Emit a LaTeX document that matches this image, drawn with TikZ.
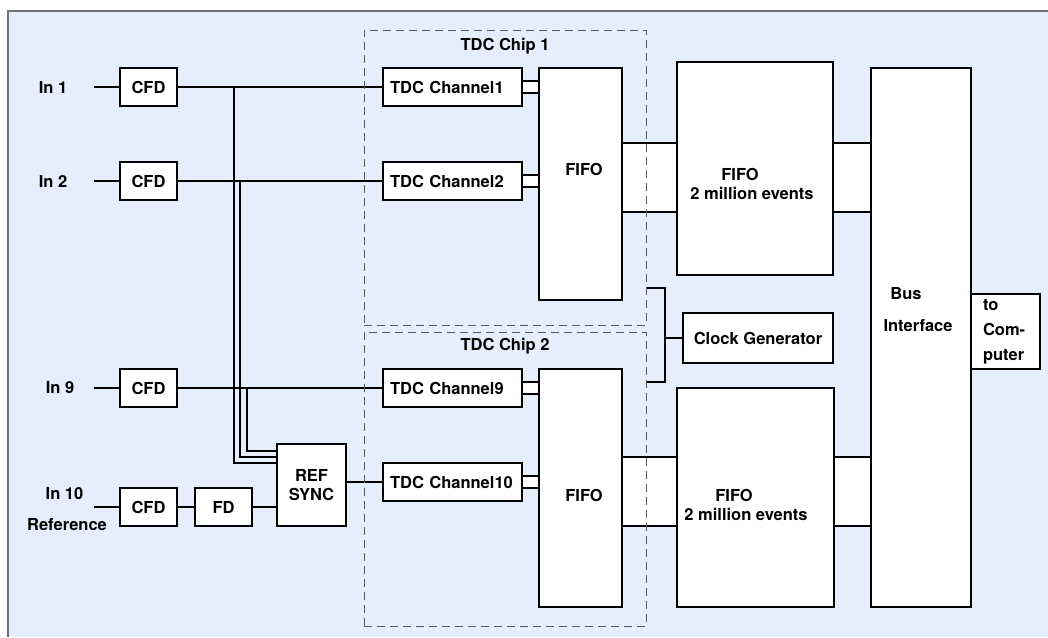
\documentclass[tikz,border=0pt]{standalone}
\usepackage{fontspec}
\setmainfont{TeX Gyre Heros}
\definecolor{bgblue}{HTML}{E4EEFD}
\begin{document}
\begin{tikzpicture}[x=1pt,y=-1pt,
    font=\fontsize{16.5}{19}\selectfont\bfseries,
    box/.style={draw,line width=2pt,fill=white,inner sep=0pt},
    cfd/.style={box,minimum width=57pt,minimum height=38pt},
    chan/.style={box,minimum height=38pt,text width=125pt,inner xsep=7pt,align=left},
    chip/.style={draw=black!65,dash pattern=on 8pt off 5pt,line width=1pt,inner sep=0pt},
    wire/.style={line width=1.5pt}]
    \useasboundingbox (0,0) rectangle (1048,637);
    \fill[bgblue] (8,11) rectangle (1048,637);
    \draw[black!55,line width=1.5pt] (8,637) -- (8,11) -- (1048,11);
    % inputs
    \node (inA) at (53,87) {In 1};
    \node (inB) at (53,181) {In 2};
    \node (inC) at (60,388) {In 9};
    \node (inD) at (64.5,494) {In 10};
    \node (refl) at (67,525) {Reference};
    \node[cfd] (cfdA) at (148.5,87) {CFD};
    \node[cfd] (cfdB) at (148.5,181) {CFD};
    \node[cfd] (cfdC) at (148.5,388) {CFD};
    \node[cfd] (cfdD) at (148.5,507) {CFD};
    \node[cfd] (fd) at (223.5,507) {FD};
    \node[box,minimum width=69pt,minimum height=82pt,align=center] (sync) at (311.5,485) {REF\\SYNC};
    % tdc chips
    \node[chan] (chA) at (452.5,87) {TDC Channel1};
    \node[chan] (chB) at (452.5,181) {TDC Channel2};
    \node[chan] (chC) at (452.5,388) {TDC Channel9};
    \node[chan] (chD) at (452.5,482) {TDC Channel10};
    \node[box,minimum width=83pt,minimum height=232pt,label={[xshift=3.5pt,yshift=15pt]center:FIFO}] (fifoA) at (580.5,184) {};
    \node[box,minimum width=83pt,minimum height=238pt,label={[xshift=3.5pt,yshift=-7pt]center:FIFO}] (fifoB) at (580.5,488) {};
    % memory and bus
    \node[box,minimum width=156pt,minimum height=213pt,
      label={[align=center,xshift=-3pt,yshift=-15.5pt]center:{FIFO\hspace*{24pt}\\2 million events}}] (bigA) at (755,168.5) {};
    \node[box,minimum width=157pt,minimum height=219pt,
      label={[align=center,xshift=-9.5pt,yshift=-7pt]center:{FIFO\hspace*{24pt}\\2 million events}}] (bigB) at (755.5,497.5) {};
    \node[box,minimum width=100pt,minimum height=539pt,
      label={[align=center,xshift=-3pt,yshift=27.5pt]center:{Bus\hspace*{24pt}\\[13pt]Interface}}] (businf) at (921,337.5) {};
    \node[box,minimum width=69pt,minimum height=75pt,text width=45pt,inner xsep=12pt,align=left,
      font=\fontsize{16.5}{25}\selectfont\bfseries] (comp) at (1005.5,331.5) {to\\Com-\\puter};
    \node[box,minimum width=150pt,minimum height=50pt] (clk) at (758,338) {Clock Generator};
    % wires
    \foreach \c in {cfdA,cfdB,cfdC,cfdD}
      \draw[wire] (\c.west) -- ++(-25,0);
    \draw[wire] (cfdA) -- (chA);
    \draw[wire] (cfdB) -- (chB);
    \draw[wire] (cfdC) -- (chC);
    \draw[wire] (cfdD) -- (fd);
    \draw[wire] (fd.east) -- (fd.east -| sync.west);
    \draw[wire] (sync.east |- chD) -- (chD.west);
    \draw[wire] ([xshift=56pt]cfdA.east) |- ([yshift=22pt]sync.west);
    \draw[wire] ([xshift=62pt]cfdB.east) |- ([yshift=28pt]sync.west);
    \draw[wire] ([xshift=69pt]cfdC.east) |- ([yshift=34pt]sync.west);
    \foreach \a/\b in {chA/fifoA,chB/fifoA,chC/fifoB,chD/fifoB}{
      \fill[white] ([yshift=6pt]\a.east) rectangle ([yshift=-6pt]\a.east -| \b.west);
      \draw[wire] ([yshift=6pt]\a.east) -- ([yshift=6pt]\a.east -| \b.west)
        ([yshift=-6pt]\a.east) -- ([yshift=-6pt]\a.east -| \b.west);
    }
    \foreach \a/\b/\t/\u in {fifoA/bigA/143/212,bigA/businf/143/212,fifoB/bigB/457/526,bigB/businf/457/526}{
      \fill[white] (\a.east |- 0,\t) rectangle (\b.west |- 0,\u);
      \draw[wire] (\a.east |- 0,\t) -- (\b.west |- 0,\t) (\a.east |- 0,\u) -- (\b.west |- 0,\u);
    }
    \node[chip,minimum width=282pt,minimum height=295pt,label={[anchor=center,yshift=-17pt]north:TDC Chip 1}] (chipA) at (505,177.5) {};
    \node[chip,minimum width=282pt,minimum height=294pt,label={[anchor=center,yshift=-15pt]north:TDC Chip 2}] (chipB) at (505,479) {};
    % clock
    \coordinate (ck) at (665,338);
    \draw[wire] (chipA.east |- 0,288) -| (ck) |- (chipB.east |- 0,382);
    \draw[wire] (ck) -- (clk);
\end{tikzpicture}
\end{document}
